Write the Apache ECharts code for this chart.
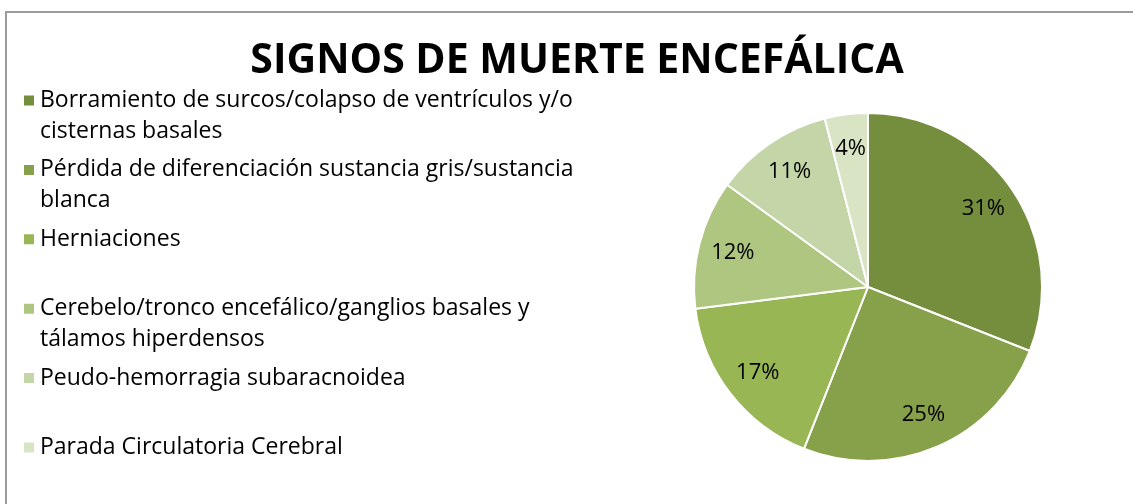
<!DOCTYPE html>
<html>
<head>
  <meta charset="utf-8">
  <script src="https://cdn.jsdelivr.net/npm/echarts@6/dist/echarts.min.js"></script>
  <style>
    html, body { margin: 0; padding: 0; background: #fff; }
    #frame { position: absolute; left: 0; top: 0; width: 1133px; height: 504px; overflow: hidden; }
    #main { position: absolute; left: 5px; top: 11px; width: 1140px; height: 520px;
            border-left: 2px solid #9a9a9a; border-top: 2px solid #9a9a9a; }
  </style>
</head>
<body>
<div id="frame"><div id="main"></div></div>
<script type="text/javascript">
  // categorias (con salto de linea como en la leyenda original)
  var categories = [
    'Borramiento de surcos/colapso de ventrículos y/o\ncisternas basales',
    'Pérdida de diferenciación sustancia gris/sustancia\nblanca',
    'Herniaciones',
    'Cerebelo/tronco encefálico/ganglios basales y\ntálamos hiperdensos',
    'Peudo-hemorragia subaracnoidea',
    'Parada Circulatoria Cerebral'
  ];
  var values = [31, 25, 17, 12, 11, 4];
  var colors = ['#748e3d', '#87a14b', '#99b655', '#aec67f', '#c4d5a8', '#d8e4c4'];

  var chart = echarts.init(document.getElementById('main'));

  // centro del pastel en coordenadas del contenedor
  var CX = 861, CY = 274, R = 174;
  var LINE = 31;

  var pieData = categories.map(function (name, i) {
    return { name: name, value: values[i], itemStyle: { color: colors[i] } };
  });

  chart.setOption({
    animation: false,
    title: {
      text: 'SIGNOS DE MUERTE ENCEFÁLICA',
      left: 'center',
      top: 23,
      textStyle: { fontFamily: 'Open Sans', fontWeight: 'bold', fontSize: 41, color: '#000' }
    },
    legend: {
      orient: 'vertical',
      left: 15,
      top: 41,
      padding: 0,
      itemWidth: 12,
      itemHeight: 12,
      itemGap: 69.4 - 3 * LINE,
      icon: 'rect',
      selectedMode: false,
      // siempre 3 lineas: la del medio es la primera linea del texto, alineada con el icono
      formatter: function (name) {
        return name.indexOf('\n') >= 0 ? ' \n' + name : ' \n' + name + '\n ';
      },
      textStyle: { fontFamily: 'Open Sans', fontSize: 23, color: '#000', lineHeight: LINE }
    },
    series: [{
      type: 'pie',
      center: [CX, CY],
      radius: [0, R],
      startAngle: 90,
      clockwise: true,
      itemStyle: { borderColor: '#fff', borderWidth: 2 },
      label: {
        show: true,
        position: 'inner',
        formatter: '{c}%',
        fontFamily: 'Open Sans',
        fontSize: 22,
        color: '#000'
      },
      labelLayout: function (p) {
        var r = p.labelRect;
        var dx = r.x + r.width / 2 - CX;
        var dy = r.y + r.height / 2 - CY;
        return { x: CX + dx * 1.55, y: CY + dy * 1.55 };
      },
      emphasis: { disabled: true },
      data: pieData
    }]
  });
</script>
</body>
</html>
